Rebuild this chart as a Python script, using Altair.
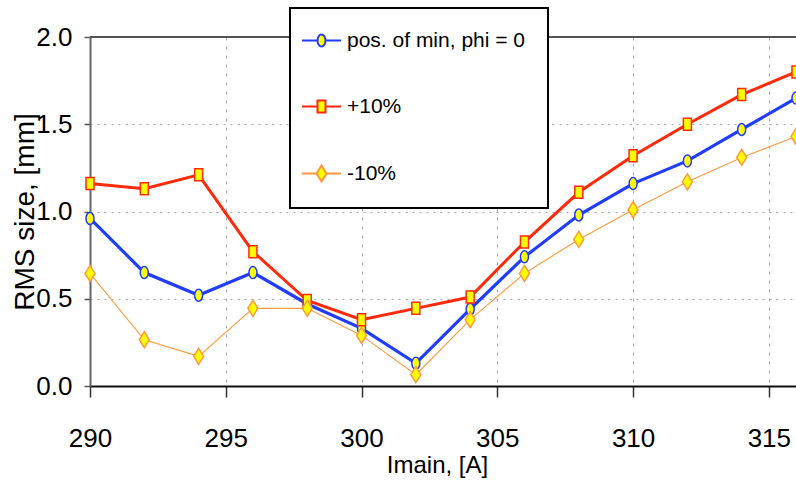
import altair as alt
import pandas as pd

# Main-coil current scan: beam RMS size at the position of minimum
currents = [290, 292, 294, 296, 298, 300, 302, 304, 306, 308, 310, 312, 314, 316]
rms_nominal = [0.96, 0.65, 0.52, 0.65, 0.47, 0.33, 0.13, 0.44, 0.74, 0.98, 1.16, 1.29, 1.47, 1.65]
rms_plus10 = [1.16, 1.13, 1.21, 0.77, 0.49, 0.38, 0.445, 0.51, 0.825, 1.11, 1.32, 1.50, 1.67, 1.80]
rms_minus10 = [0.645, 0.265, 0.17, 0.445, 0.445, 0.29, 0.065, 0.38, 0.645, 0.84, 1.01, 1.17, 1.31, 1.43]

series_names = ["pos. of min, phi = 0", "+10%", "-10%"]
series_colors = ["#1f3cff", "#ff2a0a", "#ff9a3c"]
line_widths = [3.2, 3.0, 1.1]

# marker outlines (path units are half the symbol side)
marker_paths = [
    "M0,-1.2A0.8,1.2,0,1,1,0,1.2A0.8,1.2,0,1,1,0,-1.2Z",
    "M-0.8,-1.2H0.8V1.2H-0.8Z",
    "M0,-1.6L1,0L0,1.6L-1,0Z",
]
# legend symbols: short line segment with the marker in the middle
legend_paths = [
    "M-4.1,0H-1M0.6,0H3.7M-0.2,-1.2A0.8,1.2,0,1,1,-0.2,1.2A0.8,1.2,0,1,1,-0.2,-1.2Z",
    "M-4.1,0H-1M0.6,0H3.7M-1,-1.2H0.6V1.2H-1Z",
    "M-4.1,0H-1.2M0.8,0H3.7M-0.2,-1.6L0.8,0L-0.2,1.6L-1.2,0Z",
]

rows = []
for name, vals in zip(series_names, [rms_nominal, rms_plus10, rms_minus10]):
    for c, v in zip(currents, vals):
        rows.append({"Imain": c, "rms": v, "series": name})
df = pd.DataFrame(rows)

FONT = "Liberation Sans, Arial, sans-serif"

x_scale = alt.Scale(domain=[290, 316], nice=False, zero=False)
y_scale = alt.Scale(domain=[0, 2], nice=False)
color_scale = alt.Scale(domain=series_names, range=series_colors)

x_axis = alt.Axis(
    values=[290, 295, 300, 305, 310, 315], format="d",
    title="Imain, [A]", titleFont=FONT, titleFontSize=24, titleFontWeight="normal",
    titleColor="#000", titleX=347, titleY=79, titleAlign="center", titleBaseline="middle",
    labelFont=FONT, labelFontSize=26, labelColor="#000", labelPadding=41,
    labelBaseline="middle", labelFlush=False,
    tickSize=11, tickColor="#333", tickWidth=1.5,
    domainColor="#111", domainWidth=2,
    grid=True, gridColor="#a8a8a8", gridDash=[3, 6], gridWidth=1,
)
y_axis = alt.Axis(
    values=[0, 0.5, 1.0, 1.5, 2.0], format=".1f",
    title="RMS size, [mm]", titleFont=FONT, titleFontSize=28, titleFontWeight="normal",
    titleColor="#000", titleX=-65, titleY=174.5, titleAngle=-90,
    titleAlign="center", titleBaseline="middle",
    labelFont=FONT, labelFontSize=26, labelColor="#000", labelPadding=12,
    labelFlush=False,
    tickSize=6, tickColor="#555", tickWidth=1.5,
    domainColor="#666", domainWidth=2,
    grid=True, gridColor="#a8a8a8", gridDash=[2, 5], gridWidth=1,
)

X = alt.X("Imain:Q", scale=x_scale, axis=x_axis)
Y = alt.Y("rms:Q", scale=y_scale, axis=y_axis)

base = alt.Chart(df)

# one line layer per series so each keeps its own stroke width
line_layers = [
    base.transform_filter(alt.datum.series == name).mark_line(strokeWidth=lw).encode(
        x=X, y=Y, color=alt.Color("series:N", scale=color_scale, legend=None),
    )
    for name, lw in zip(series_names, line_widths)
]

points = base.mark_point(filled=False, fill="#ffff00", fillOpacity=1, opacity=1,
                         size=100, strokeWidth=1.5).encode(
    x=X, y=Y,
    color=alt.Color("series:N", scale=color_scale, legend=None),
    shape=alt.Shape("series:N", scale=alt.Scale(domain=series_names, range=marker_paths),
                    legend=None),
)

# upper frame line of the plot area
frame_top = base.mark_rule(color="#555", strokeWidth=2).encode(
    x=alt.X(datum=290, scale=x_scale, axis=x_axis),
    x2=alt.X2(datum=316),
    y=alt.Y(datum=2.0, scale=y_scale, axis=y_axis),
)

legend = alt.Legend(
    title=None, orient="none", legendX=200, legendY=-29,
    fillColor="#ffffff", strokeColor="#000000",
    padding=22, rowPadding=44, symbolSize=100, symbolStrokeWidth=2,
    labelFont=FONT, labelFontSize=21, labelColor="#000", labelOffset=14,
    labelLimit=400,
)

# legend-only layer: no rows are drawn, the scales carry the entries
legend_layer = base.transform_filter("false").mark_point(
    filled=False, fill="#ffff00", fillOpacity=1, opacity=1, size=100, strokeWidth=2
).encode(
    x=X, y=Y,
    color=alt.Color("series:N", scale=color_scale, legend=legend, sort=None),
    shape=alt.Shape("series:N", scale=alt.Scale(domain=series_names, range=legend_paths),
                    legend=legend, sort=None),
)

chart = alt.layer(*line_layers, points, frame_top, legend_layer).resolve_scale(
    color="independent", shape="independent"
).properties(
    width=706, height=349,
    autosize=alt.AutoSizeParams(type="none"),
    padding={"left": 90, "top": 37, "right": 0, "bottom": 98},
    background="#ffffff",
).configure_view(stroke=None).configure_legend(strokeWidth=2)

chart.save("out.html", embed_options={"renderer": "svg", "actions": False})
